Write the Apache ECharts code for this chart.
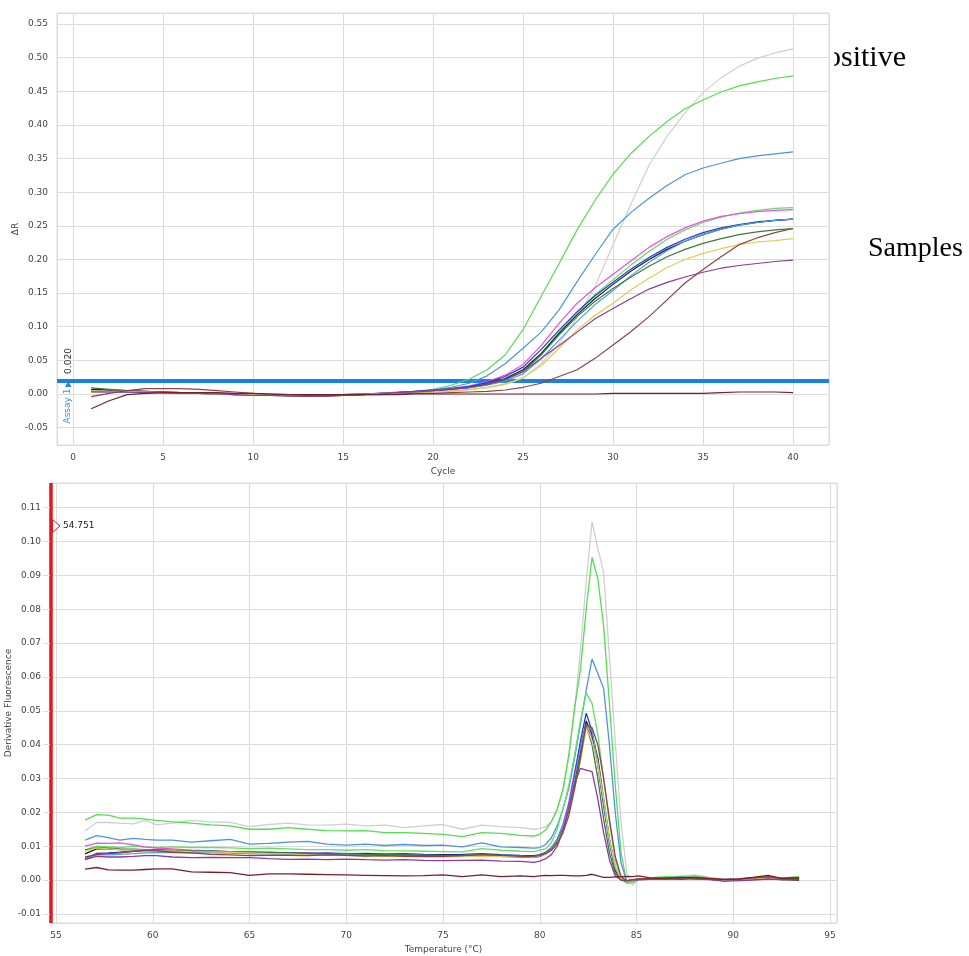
<!DOCTYPE html>
<html>
<head>
<meta charset="utf-8">
<title>Amplification and melt curves</title>
<script src="https://cdn.jsdelivr.net/npm/echarts@6/dist/echarts.min.js"></script>
<style>
  html, body { margin: 0; padding: 0; background: #fff; }
  #chart { width: 969px; height: 956px; }
</style>
</head>
<body>
<div id="chart"></div>
<script>
// ---- Amplification plot (ΔR vs cycle) ----
const cycles = [1,2,3,4,5,6,7,8,9,10,11,12,13,14,15,16,17,18,19,20,21,22,23,24,25,26,27,28,29,30,31,32,33,34,35,36,37,38,39,40];
const threshold = 0.020;

const ampGray    = [0.004,0.004,0.003,0.003,0.002,0.002,0.001,0.001,0.000,-0.001,-0.001,-0.002,-0.002,-0.002,-0.002,-0.001,0.000,0.001,0.002,0.003, 0.004,0.006,0.009,0.014,0.024,0.045,0.075,0.113,0.160,0.222, 0.283,0.340,0.383,0.418,0.448,0.470,0.487,0.499,0.507,0.513];
const ampLime    = [0.006,0.005,0.004,0.003,0.003,0.002,0.002,0.001,0.000,-0.001,-0.002,-0.002,-0.003,-0.003,-0.002,-0.001,0.001,0.002,0.004,0.007, 0.013,0.022,0.036,0.058,0.096,0.145,0.194,0.244,0.288,0.327, 0.358,0.383,0.405,0.424,0.437,0.449,0.458,0.464,0.469,0.473];
const ampSky     = [0.004,0.004,0.003,0.003,0.002,0.002,0.001,0.000,-0.001,-0.001,-0.002,-0.002,-0.002,-0.002,-0.001,0.000,0.001,0.002,0.004,0.006, 0.010,0.016,0.027,0.045,0.068,0.092,0.125,0.167,0.207,0.245, 0.270,0.291,0.310,0.326,0.336,0.343,0.350,0.354,0.357,0.360];
const ampGreen   = [0.006,0.005,0.004,0.003,0.002,0.002,0.001,0.000,-0.001,-0.001,-0.002,-0.003,-0.003,-0.002,-0.002,-0.001,0.000,0.002,0.003,0.005, 0.008,0.011,0.015,0.022,0.035,0.060,0.092,0.122,0.148,0.170, 0.192,0.212,0.230,0.244,0.255,0.263,0.269,0.273,0.276,0.277];
const ampMagenta = [0.005,0.005,0.004,0.003,0.003,0.002,0.001,0.001,0.000,-0.001,-0.002,-0.002,-0.002,-0.002,-0.001,0.000,0.001,0.003,0.004,0.006, 0.008,0.012,0.018,0.028,0.044,0.072,0.105,0.135,0.158,0.178, 0.198,0.218,0.234,0.247,0.257,0.264,0.268,0.271,0.273,0.274];
const ampBlue    = [0.004,0.004,0.003,0.003,0.002,0.002,0.001,0.000,-0.001,-0.002,-0.002,-0.002,-0.002,-0.002,-0.001,0.000,0.001,0.002,0.004,0.006, 0.008,0.011,0.017,0.026,0.040,0.066,0.095,0.122,0.146,0.166, 0.186,0.203,0.218,0.230,0.240,0.247,0.252,0.256,0.258,0.260];
const ampBlack   = [0.007,0.006,0.005,0.004,0.003,0.002,0.001,0.001,0.000,-0.001,-0.002,-0.002,-0.003,-0.002,-0.002,-0.001,0.000,0.002,0.003,0.005, 0.007,0.010,0.015,0.023,0.036,0.060,0.090,0.118,0.142,0.163, 0.183,0.200,0.215,0.227,0.237,0.245,0.251,0.255,0.258,0.260];
const ampAzure   = [0.003,0.003,0.003,0.002,0.002,0.001,0.001,0.000,-0.001,-0.001,-0.002,-0.002,-0.002,-0.002,-0.001,0.000,0.001,0.002,0.003,0.005, 0.007,0.009,0.013,0.019,0.030,0.052,0.080,0.108,0.133,0.154, 0.176,0.196,0.213,0.227,0.237,0.245,0.251,0.255,0.258,0.260];
const ampForest  = [0.009,0.007,0.005,0.004,0.003,0.002,0.002,0.001,0.000,-0.001,-0.002,-0.002,-0.003,-0.003,-0.002,-0.001,0.000,0.002,0.003,0.005, 0.007,0.010,0.014,0.021,0.033,0.058,0.088,0.115,0.138,0.157, 0.174,0.190,0.204,0.215,0.224,0.231,0.237,0.241,0.244,0.246];
const ampYellow  = [0.005,0.004,0.004,0.003,0.002,0.002,0.001,0.000,-0.001,-0.001,-0.002,-0.002,-0.002,-0.002,-0.002,-0.001,0.000,0.001,0.002,0.003, 0.005,0.007,0.010,0.015,0.024,0.042,0.068,0.095,0.117,0.135, 0.155,0.172,0.188,0.200,0.209,0.216,0.222,0.226,0.228,0.231];
const ampPurple  = [0.003,0.003,0.003,0.002,0.002,0.001,0.001,0.000,-0.001,-0.002,-0.002,-0.003,-0.003,-0.003,-0.002,-0.001,0.000,0.002,0.003,0.005, 0.007,0.010,0.015,0.022,0.033,0.053,0.072,0.092,0.112,0.127, 0.142,0.156,0.166,0.174,0.181,0.187,0.191,0.194,0.197,0.199];
const ampBrown   = [-0.004,0.001,0.005,0.008,0.008,0.008,0.007,0.005,0.003,0.001,0.000,-0.001,-0.002,-0.002,-0.002,-0.001,-0.001,0.000,0.001,0.001, 0.002,0.003,0.004,0.006,0.010,0.016,0.026,0.036,0.053,0.073, 0.093,0.115,0.140,0.165,0.185,0.204,0.222,0.232,0.240,0.246];
const ampNtc     = [-0.022,-0.010,-0.001,0.001,0.002,0.002,0.002,0.002,0.001,0.001,0.000,-0.001,-0.001,-0.001,-0.001,-0.001,-0.001,-0.001,0.000,0.000, 0.000,0.000,0.000,0.000,0.000,0.000,0.000,0.000,0.000,0.001, 0.001,0.001,0.001,0.001,0.001,0.002,0.003,0.003,0.003,0.002];

// ---- Melt curve (derivative fluorescence vs temperature) ----
const temps = [56.5,57.1,57.7,58.3,59.0,59.6,60.2,61,62,63,64,65,66,67,68,69,70,71,72,73,74,75,76,77,78,79,79.7,
               80.0,80.3,80.6,80.9,81.2,81.5,81.8,82.1,82.4,82.7,83.0,83.3,83.6,83.9,84.2,84.5,84.8,85.1,
               85.7,86.5,87.3,88.0,88.8,89.5,90.3,91.0,91.8,92.5,93.4];
const meltMarker = 54.751;

const meltGray    = [0.0145,0.0170,0.0170,0.0168,0.0166,0.0176,0.0163, 0.0168,0.0176,0.0172,0.0170,0.0158,0.0164,0.0168,0.0163,0.0162,0.0165,0.0160,0.0162,0.0155,0.0160,0.0164,0.0150,0.0162,0.0158,0.0155, 0.0150,
                     0.0152,0.0158,0.0172,0.0205,0.0260,0.0360,0.0500,0.0680,0.0880,0.1058,0.0980,0.0910,0.0660,0.0410,0.0170,0.0020,-0.0015,0.0000,
                     0.0005,0.0008,0.0012,0.0015,0.0008,0.0002,0.0000,0.0005,0.0010,0.0005,0.0008];
const meltLime    = [0.0177,0.0193,0.0192,0.0183,0.0183,0.0180,0.0176, 0.0172,0.0168,0.0163,0.0160,0.0150,0.0150,0.0155,0.0150,0.0146,0.0145,0.0146,0.0140,0.0140,0.0138,0.0135,0.0128,0.0140,0.0138,0.0132, 0.0130,
                     0.0135,0.0148,0.0172,0.0210,0.0270,0.0370,0.0510,0.0620,0.0800,0.0953,0.0890,0.0750,0.0520,0.0280,0.0080,-0.0010,-0.0008,0.0002,
                     0.0006,0.0010,0.0008,0.0012,0.0006,0.0002,0.0000,0.0004,0.0008,0.0004,0.0010];
const meltSky     = [0.0118,0.0131,0.0125,0.0118,0.0123,0.0120,0.0118, 0.0118,0.0112,0.0116,0.0120,0.0106,0.0108,0.0112,0.0114,0.0106,0.0103,0.0106,0.0102,0.0105,0.0102,0.0103,0.0098,0.0110,0.0098,0.0096, 0.0094,
                     0.0096,0.0105,0.0125,0.0160,0.0210,0.0270,0.0360,0.0460,0.0560,0.0653,0.0610,0.0566,0.0400,0.0200,0.0050,-0.0005,0.0000,0.0003,
                     0.0005,0.0004,0.0008,0.0006,0.0004,0.0000,-0.0002,0.0002,0.0006,0.0003,0.0005];
const meltGreen   = [0.0089,0.0100,0.0098,0.0096,0.0100,0.0097,0.0096, 0.0098,0.0096,0.0096,0.0095,0.0093,0.0094,0.0092,0.0090,0.0090,0.0088,0.0090,0.0087,0.0086,0.0085,0.0084,0.0083,0.0093,0.0088,0.0085, 0.0084,
                     0.0088,0.0092,0.0110,0.0150,0.0210,0.0280,0.0370,0.0470,0.0553,0.0522,0.0430,0.0300,0.0170,0.0060,0.0005,-0.0010,-0.0005,0.0002,
                     0.0004,0.0008,0.0010,0.0006,0.0004,0.0000,0.0002,0.0004,0.0008,0.0006,0.0010];
const meltMagenta = [0.0100,0.0109,0.0108,0.0110,0.0104,0.0098,0.0094, 0.0092,0.0088,0.0086,0.0084,0.0079,0.0080,0.0078,0.0081,0.0076,0.0079,0.0074,0.0076,0.0072,0.0070,0.0069,0.0072,0.0070,0.0071,0.0069, 0.0068,
                     0.0070,0.0078,0.0092,0.0120,0.0165,0.0230,0.0320,0.0400,0.0455,0.0420,0.0340,0.0230,0.0120,0.0040,0.0003,-0.0004,0.0000,0.0002,
                     0.0004,0.0006,0.0005,0.0008,0.0004,-0.0002,0.0000,0.0003,0.0006,0.0004,0.0006];
const meltBlue    = [0.0062,0.0079,0.0080,0.0082,0.0085,0.0087,0.0088, 0.0086,0.0084,0.0085,0.0083,0.0082,0.0080,0.0081,0.0079,0.0080,0.0078,0.0079,0.0077,0.0078,0.0076,0.0075,0.0076,0.0078,0.0075,0.0073, 0.0072,
                     0.0075,0.0082,0.0095,0.0120,0.0160,0.0220,0.0310,0.0410,0.0493,0.0440,0.0340,0.0220,0.0110,0.0030,0.0000,-0.0003,0.0000,0.0002,
                     0.0003,0.0005,0.0004,0.0006,0.0003,-0.0001,0.0001,0.0002,0.0005,0.0002,0.0003];
const meltBlack   = [0.0077,0.0092,0.0092,0.0090,0.0090,0.0089,0.0088, 0.0085,0.0084,0.0082,0.0081,0.0078,0.0078,0.0077,0.0076,0.0075,0.0075,0.0076,0.0074,0.0075,0.0073,0.0074,0.0073,0.0075,0.0072,0.0071, 0.0070,
                     0.0073,0.0080,0.0092,0.0115,0.0150,0.0205,0.0290,0.0380,0.0470,0.0430,0.0360,0.0240,0.0120,0.0030,0.0001,-0.0003,0.0000,0.0001,
                     0.0002,0.0004,0.0003,0.0005,0.0002,-0.0002,0.0000,0.0002,0.0004,0.0001,0.0000];
const meltAzure   = [0.0060,0.0075,0.0074,0.0076,0.0078,0.0080,0.0081, 0.0082,0.0080,0.0081,0.0080,0.0079,0.0078,0.0078,0.0076,0.0077,0.0076,0.0075,0.0076,0.0074,0.0073,0.0072,0.0073,0.0075,0.0071,0.0070, 0.0069,
                     0.0072,0.0080,0.0094,0.0120,0.0160,0.0215,0.0300,0.0390,0.0460,0.0440,0.0350,0.0230,0.0115,0.0035,0.0002,-0.0004,0.0000,0.0002,
                     0.0003,0.0005,0.0006,0.0004,0.0003,0.0000,-0.0001,0.0002,0.0004,0.0003,0.0004];
const meltForest  = [0.0088,0.0096,0.0094,0.0092,0.0091,0.0090,0.0090, 0.0088,0.0086,0.0085,0.0084,0.0083,0.0082,0.0080,0.0079,0.0078,0.0078,0.0076,0.0075,0.0074,0.0073,0.0072,0.0071,0.0073,0.0070,0.0068, 0.0067,
                     0.0070,0.0077,0.0090,0.0112,0.0148,0.0200,0.0280,0.0370,0.0455,0.0400,0.0300,0.0180,0.0080,0.0020,0.0000,-0.0004,0.0001,0.0002,
                     0.0004,0.0006,0.0008,0.0006,0.0003,-0.0002,0.0000,0.0003,0.0006,0.0004,0.0006];
const meltYellow  = [0.0085,0.0095,0.0092,0.0090,0.0089,0.0088,0.0087, 0.0086,0.0084,0.0083,0.0082,0.0080,0.0078,0.0077,0.0074,0.0073,0.0072,0.0071,0.0070,0.0069,0.0068,0.0068,0.0069,0.0071,0.0069,0.0070, 0.0068,
                     0.0071,0.0076,0.0088,0.0110,0.0145,0.0195,0.0270,0.0350,0.0450,0.0410,0.0340,0.0240,0.0120,0.0040,0.0003,-0.0003,0.0000,0.0002,
                     0.0003,0.0006,0.0005,0.0007,0.0004,0.0000,0.0001,0.0003,0.0005,0.0002,0.0004];
const meltPurple  = [0.0060,0.0070,0.0068,0.0068,0.0070,0.0072,0.0072, 0.0068,0.0066,0.0067,0.0066,0.0066,0.0063,0.0061,0.0062,0.0060,0.0062,0.0060,0.0059,0.0060,0.0058,0.0057,0.0058,0.0059,0.0056,0.0055, 0.0052,
                     0.0056,0.0063,0.0075,0.0100,0.0145,0.0210,0.0285,0.0330,0.0325,0.0320,0.0240,0.0140,0.0060,0.0012,0.0000,-0.0002,0.0000,0.0001,
                     0.0002,0.0003,0.0004,0.0003,0.0001,-0.0003,-0.0002,0.0000,0.0003,0.0001,0.0002];
const meltBrown   = [0.0068,0.0075,0.0078,0.0080,0.0085,0.0088,0.0086, 0.0082,0.0080,0.0076,0.0074,0.0072,0.0073,0.0073,0.0072,0.0074,0.0073,0.0071,0.0072,0.0070,0.0071,0.0070,0.0072,0.0075,0.0073,0.0070, 0.0070,
                     0.0072,0.0078,0.0088,0.0108,0.0140,0.0190,0.0270,0.0360,0.0460,0.0450,0.0400,0.0300,0.0180,0.0070,0.0010,-0.0002,0.0001,0.0003,
                     0.0005,0.0006,0.0008,0.0006,0.0004,0.0002,0.0003,0.0006,0.0010,0.0005,0.0006];
const meltNtc     = [0.0032,0.0037,0.0030,0.0029,0.0029,0.0031,0.0033, 0.0033,0.0024,0.0023,0.0022,0.0014,0.0018,0.0018,0.0017,0.0016,0.0015,0.0014,0.0013,0.0012,0.0013,0.0015,0.0010,0.0015,0.0010,0.0012, 0.0010,
                     0.0012,0.0014,0.0013,0.0014,0.0014,0.0013,0.0012,0.0012,0.0014,0.0017,0.0012,0.0008,0.0008,0.0009,0.0010,0.0011,0.0010,0.0012,
                     0.0006,0.0005,0.0007,0.0008,0.0004,0.0002,0.0003,0.0008,0.0014,0.0005,0.0006];

// one entry per well: colour plus its amplification and melt traces
const wells = [
  { color: '#cfcfcf', amp: ampGray,    melt: meltGray },
  { color: '#52de52', amp: ampLime,    melt: meltLime },
  { color: '#4d94e0', amp: ampSky,     melt: meltSky },
  { color: '#5fe35f', amp: ampGreen,   melt: meltGreen },
  { color: '#ee4cee', amp: ampMagenta, melt: meltMagenta },
  { color: '#2438d0', amp: ampBlue,    melt: meltBlue },
  { color: '#1c1c2a', amp: ampBlack,   melt: meltBlack },
  { color: '#4aa3e6', amp: ampAzure,   melt: meltAzure },
  { color: '#3b7b3b', amp: ampForest,  melt: meltForest },
  { color: '#dccf55', amp: ampYellow,  melt: meltYellow },
  { color: '#8f3a9a', amp: ampPurple,  melt: meltPurple },
  { color: '#8e4444', amp: ampBrown,   melt: meltBrown },
  { color: '#7a1f28', amp: ampNtc,     melt: meltNtc }
];

const FONT = 'DejaVu Sans';
const GRID_LINE = '#dcdcdc';
const labelStyle = { fontFamily: FONT, fontSize: 9, color: '#444' };

function pairs(xs, ys) { return xs.map((x, i) => [x, ys[i]]); }

const series = [];
wells.forEach((w) => {
  series.push({
    type: 'line', xAxisIndex: 0, yAxisIndex: 0, z: 6,
    data: pairs(cycles, w.amp), showSymbol: false, symbol: 'none',
    lineStyle: { color: w.color, width: 1.2 }, silent: true
  });
});
wells.forEach((w) => {
  series.push({
    type: 'line', xAxisIndex: 1, yAxisIndex: 1, z: 6,
    data: pairs(temps, w.melt), showSymbol: false, symbol: 'none',
    lineStyle: { color: w.color, width: 1.3 }, silent: true
  });
});
// threshold line of the amplification plot
series.push({
  type: 'line', xAxisIndex: 0, yAxisIndex: 0, data: [], z: 8, silent: true,
  markLine: {
    silent: true, symbol: 'none', animation: false,
    label: { show: false },
    lineStyle: { color: '#1a7fe6', width: 4, type: 'solid' },
    data: [{ yAxis: threshold }]
  }
});
// temperature marker of the melt plot
series.push({
  type: 'line', xAxisIndex: 1, yAxisIndex: 1, data: [], z: 8, silent: true,
  markLine: {
    silent: true, symbol: 'none', animation: false,
    label: { show: false },
    lineStyle: { color: '#e5161c', width: 3.5, type: 'solid' },
    data: [{ xAxis: meltMarker }]
  }
});

function fmt2(v) { return Math.abs(v) < 1e-9 ? '0.00' : v.toFixed(2); }

const chart = echarts.init(document.getElementById('chart'), null, { renderer: 'canvas' });
chart.setOption({
  animation: false,
  backgroundColor: '#fff',
  grid: [
    { left: 57, top: 13, right: 140, bottom: 511, show: true, backgroundColor: '#fff',
      borderColor: GRID_LINE, borderWidth: 1, containLabel: false, outerBoundsMode: 'none', z: 5 },
    { left: 50, top: 483, right: 132, bottom: 33, show: true, backgroundColor: '#fff',
      borderColor: GRID_LINE, borderWidth: 1, containLabel: false, outerBoundsMode: 'none', z: 5 }
  ],
  xAxis: [
    { gridIndex: 0, type: 'value', min: -0.9, max: 42, minInterval: 5, maxInterval: 5, z: 5,
      name: 'Cycle', nameLocation: 'middle', nameGap: 22, nameTextStyle: labelStyle,
      axisLine: { show: false }, axisTick: { show: false },
      axisLabel: Object.assign({ margin: 8, showMinLabel: false, showMaxLabel: false }, labelStyle),
      splitLine: { show: true, lineStyle: { color: GRID_LINE, width: 1 } } },
    { gridIndex: 1, type: 'value', min: 54.69, max: 95.36, minInterval: 5, maxInterval: 5, z: 5,
      name: 'Temperature (°C)', nameLocation: 'middle', nameGap: 22, nameTextStyle: labelStyle,
      axisLine: { show: false }, axisTick: { show: false },
      axisLabel: Object.assign({ margin: 8, showMinLabel: false, showMaxLabel: false }, labelStyle),
      splitLine: { show: true, lineStyle: { color: GRID_LINE, width: 1 } } }
  ],
  yAxis: [
    { gridIndex: 0, type: 'value', min: -0.0758, max: 0.5664, minInterval: 0.05, maxInterval: 0.05, z: 5,
      name: 'ΔR', nameLocation: 'middle', nameGap: 37, nameRotate: 90, nameMoveOverlap: false, nameTextStyle: labelStyle,
      axisLine: { show: false },
      axisTick: { show: true, length: 7, lineStyle: { color: GRID_LINE } },
      axisLabel: Object.assign({ margin: 9, showMinLabel: false, showMaxLabel: false, formatter: fmt2 }, labelStyle),
      splitLine: { show: true, lineStyle: { color: GRID_LINE, width: 1 } } },
    { gridIndex: 1, type: 'value', min: -0.0127, max: 0.1173, minInterval: 0.01, maxInterval: 0.01, z: 5,
      name: 'Derivative Fluorescence', nameLocation: 'middle', nameGap: 37, nameRotate: 90, nameMoveOverlap: false, nameTextStyle: labelStyle,
      axisLine: { show: false },
      axisTick: { show: true, length: 7, lineStyle: { color: GRID_LINE } },
      axisLabel: Object.assign({ margin: 9, showMinLabel: false, showMaxLabel: false, formatter: fmt2 }, labelStyle),
      splitLine: { show: true, lineStyle: { color: GRID_LINE, width: 1 } } }
  ],
  graphic: [
    // side captions, partly tucked behind the upper plot
    { type: 'text', z: 0, x: 906, y: 58,
      style: { text: 'Positive', font: '30px "Liberation Serif"', fill: '#000', align: 'right', verticalAlign: 'middle' } },
    { type: 'rect', z: 1, shape: { x: 830, y: 36, width: 4, height: 44 }, style: { fill: '#fff' } },
    { type: 'text', z: 0, x: 868, y: 249,
      style: { text: 'Samples', font: '28px "Liberation Serif"', fill: '#000', align: 'left', verticalAlign: 'middle' } },
    // threshold tag
    { type: 'text', z: 9, x: 69, y: 361, rotation: Math.PI / 2,
      style: { text: '0.020', font: '9px "DejaVu Sans"', fill: '#222', align: 'center', verticalAlign: 'middle' } },
    { type: 'polygon', z: 9, shape: { points: [[65, 387], [71.5, 387], [68.25, 381]] }, style: { fill: '#2a86e6' } },
    { type: 'text', z: 9, x: 68, y: 406, rotation: Math.PI / 2,
      style: { text: 'Assay 1', font: '9px "DejaVu Sans"', fill: '#3a8ee6', align: 'center', verticalAlign: 'middle' } },
    // melt marker tag
    { type: 'polygon', z: 9, shape: { points: [[52.5, 519.5], [60, 526], [52.5, 532.5]] },
      style: { fill: '#fff', stroke: '#e5161c', lineWidth: 1 } },
    { type: 'text', z: 9, x: 63, y: 526,
      style: { text: '54.751', font: '9px "DejaVu Sans"', fill: '#222', align: 'left', verticalAlign: 'middle' } }
  ],
  series: series
});
</script>
</body>
</html>
